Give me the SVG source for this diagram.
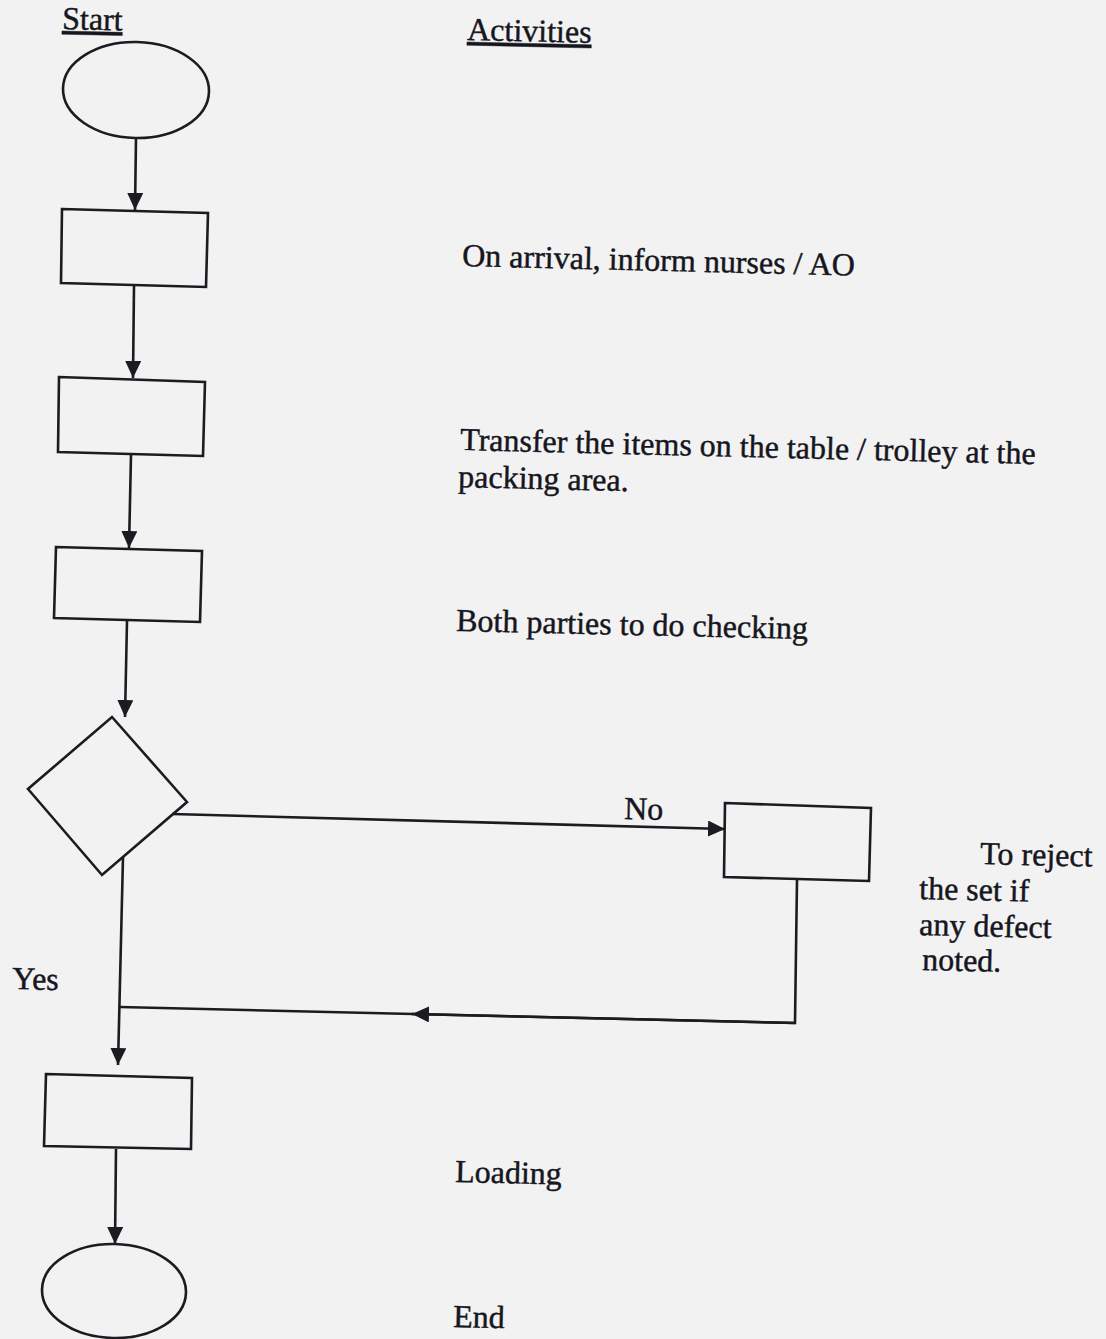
<svg xmlns="http://www.w3.org/2000/svg" width="1106" height="1339" viewBox="0 0 1106 1339">
<style>
  .shape { fill: none; stroke: #1b1b22; stroke-width: 2.6; stroke-linejoin: miter; }
  .conn { fill: none; stroke: #1b1b22; stroke-width: 2.6; }
  .arrow { marker-end: url(#ah); }
  .txt { font-family: "Liberation Serif", "Times New Roman", serif; font-size: 32px; fill: #16161e; stroke: #16161e; stroke-width: 0.45; }
  .u { text-decoration: underline; }
</style>
<defs>
  <marker id="ah" markerUnits="userSpaceOnUse" markerWidth="18" markerHeight="18" refX="17" refY="8" orient="auto">
    <path d="M0,0 L17,8 L0,16 z" fill="#1b1b22"/>
  </marker>
</defs>
<rect x="0" y="0" width="1106" height="1339" fill="#f2f2f2"/>

<g id="nodes">
  <g id="start"><ellipse class="shape" cx="136" cy="90" rx="73" ry="48" transform="rotate(1.3 136 90)"/></g>
  <g id="step1"><polygon class="shape" points="62,209 208,213 206,287 61,283"/></g>
  <g id="step2"><polygon class="shape" points="59,377 205,382 203,456 58,452"/></g>
  <g id="step3"><polygon class="shape" points="56,547 202,551 200,622 54,618"/></g>
  <g id="decision"><polygon class="shape" points="112,717 187,802 102,875 28,789"/></g>
  <g id="reject"><polygon class="shape" points="725,803 871,808 869,881 724,877"/></g>
  <g id="loading"><polygon class="shape" points="46,1074 192,1078 191,1149 44,1146"/></g>
  <g id="end"><ellipse class="shape" cx="114" cy="1291" rx="72" ry="47" transform="rotate(1.3 114 1291)"/></g>
</g>

<g id="connectors">
  <path class="conn arrow" d="M136,138 L135,210"/>
  <path class="conn arrow" d="M134,286 L133,378"/>
  <path class="conn arrow" d="M131,455 L129,548"/>
  <path class="conn arrow" d="M127,621 L125,717"/>
  <path class="conn arrow" d="M172,814 L725,829"/>
  <path class="conn" d="M797,880 L795,1023 L412,1014"/>
  <path class="conn arrow" d="M795,1023 L412,1014"/>
  <path class="conn" d="M413,1014 L120,1007"/>
  <path class="conn arrow" d="M123,857 L118,1065"/>
  <path class="conn arrow" d="M116,1149 L115,1244"/>
</g>

<g id="labels">
  <text class="txt u" x="62" y="29" transform="rotate(1.3 62 29)">Start</text>
  <text class="txt u" x="467" y="40" transform="rotate(1.3 467 40)">Activities</text>
  <text class="txt" x="462" y="266" transform="rotate(1.4 462 266)">On arrival, inform nurses / AO</text>
  <text class="txt" x="460" y="450" transform="rotate(1.4 460 450)">Transfer the items on the table / trolley at the</text>
  <text class="txt" x="458" y="487" transform="rotate(1.4 458 487)">packing area.</text>
  <text class="txt" x="456" y="631" transform="rotate(1.3 456 631)">Both parties to do checking</text>
  <text class="txt" x="624" y="819" transform="rotate(1.3 624 819)">No</text>
  <text class="txt" x="980" y="864" transform="rotate(1.3 980 864)">To reject</text>
  <text class="txt" x="919" y="899" transform="rotate(1.3 919 899)">the set if</text>
  <text class="txt" x="919" y="935" transform="rotate(1.3 919 935)">any defect</text>
  <text class="txt" x="922" y="970" transform="rotate(1.3 922 970)">noted.</text>
  <text class="txt" x="12" y="989" transform="rotate(1.3 12 989)">Yes</text>
  <text class="txt" x="455" y="1182" transform="rotate(1.3 455 1182)">Loading</text>
  <text class="txt" x="453" y="1327" transform="rotate(1.3 453 1327)">End</text>
</g>
</svg>
